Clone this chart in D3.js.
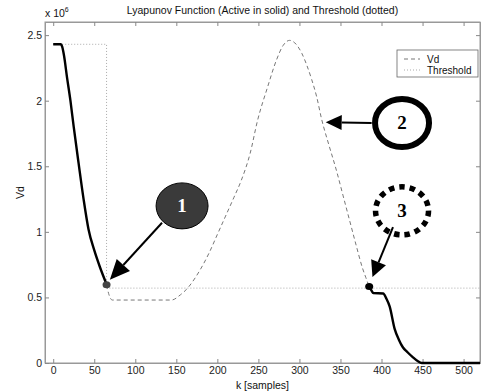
<!DOCTYPE html>
<html>
<head>
<meta charset="utf-8">
<script src="https://cdn.jsdelivr.net/npm/d3@7"></script>
<style>
  body { margin: 0; background: #fff; }
  text { font-family: "Liberation Sans", Arial, sans-serif; }
  .tick text { font-size: 10.5px; fill: #222; }
</style>
</head>
<body>
<div id="chart"></div>
<script>

// values (V in units of 1e6)
let activeStart = [[0, 2.43], [9, 2.43], [11, 2.41], [13, 2.35], [17, 2.17], [21, 2.0], [25, 1.8],
	[31, 1.52], [37, 1.25], [43, 1.02], [50, 0.86], [57, 0.73], [65, 0.6]];
let activeEnd = [[385, 0.583], [388, 0.55], [390, 0.533], [402, 0.53], [406, 0.49], [410, 0.43],
	[416, 0.26], [421, 0.18], [426, 0.12], [432, 0.08], [438, 0.045], [444, 0.015], [449, 0], [520, 0]];
let vdCurve = [[65, 0.596], [68, 0.52], [72, 0.48], [144, 0.48], [155, 0.52], [165, 0.58], [172, 0.64],
	[179, 0.71], [190, 0.84], [200, 0.98], [210, 1.12], [220, 1.26], [229, 1.39], [240, 1.6],
	[249, 1.85], [261, 2.1], [272, 2.31], [280, 2.42], [288, 2.46], [296, 2.43], [303, 2.36],
	[309, 2.27], [315, 2.16], [321, 2.03], [327, 1.86], [336, 1.66], [345, 1.47], [353, 1.28],
	[361, 1.09], [369, 0.9], [377, 0.72], [381, 0.65], [385, 0.583]];
let threshold = [[0, 2.43], [65, 2.43], [65, 0.571], [520, 0.571]];

let xTicks = [0, 50, 100, 150, 200, 250, 300, 350, 400, 450, 500];
let yTicks = [0, 0.5, 1, 1.5, 2, 2.5];

let markers = [[65, 0.596], [385, 0.583]];

// annotation bubbles: centre and arrow in data units
let notes = [
	{ label: "1", k: 157, v: 1.198, fromK: 132.6, fromV: 1.069, toK: 69, toV: 0.635, style: "filled" },
	{ label: "2", k: 425, v: 1.83, fromK: 388, fromV: 1.83, toK: 332, toV: 1.836, style: "ring" },
	{ label: "3", k: 425, v: 1.16, fromK: 414, fromV: 1.036, toK: 389, toV: 0.655, style: "dotted" }
];

let W = 481, H = 392;
let margin = { top: 22, right: 1, bottom: 29, left: 45 };

let svg = d3.select("#chart").append("svg")
	.attr("width", W)
	.attr("height", H);

let x = d3.scaleLinear().domain([-10, 520]).range([margin.left, W - margin.right]);
let y = d3.scaleLinear().domain([0, 2.6]).range([H - margin.bottom, margin.top]);

// box
svg.append("rect")
	.attr("x", x(-10)).attr("y", y(2.6))
	.attr("width", x(520) - x(-10)).attr("height", y(0) - y(2.6))
	.attr("fill", "#fff").attr("stroke", "#999").attr("stroke-width", 1);

// axes
let gx = svg.append("g").attr("transform", "translate(0," + y(0) + ")")
	.call(d3.axisBottom(x).tickValues(xTicks).tickSize(-4).tickPadding(4).tickFormat(d3.format("d")));
let gy = svg.append("g").attr("transform", "translate(" + x(-10) + ",0)")
	.call(d3.axisLeft(y).tickValues(yTicks).tickSize(-4).tickPadding(3).tickFormat(d => d));
svg.append("g").attr("transform", "translate(0," + y(2.6) + ")")
	.call(d3.axisTop(x).tickValues(xTicks).tickSize(-4).tickFormat(""));
svg.append("g").attr("transform", "translate(" + x(520) + ",0)")
	.call(d3.axisRight(y).tickValues(yTicks).tickSize(-4).tickFormat(""));
svg.selectAll(".domain").attr("stroke", "#999");
svg.selectAll(".tick line").attr("stroke", "#888");

// lines
let line = d3.line().x(d => x(d[0])).y(d => y(d[1]));
let smooth = d3.line().x(d => x(d[0])).y(d => y(d[1])).curve(d3.curveMonotoneX);

svg.append("path").datum(threshold).attr("d", line)
	.attr("fill", "none").attr("stroke", "#aaa").attr("stroke-width", 1).attr("stroke-dasharray", "1,2");

svg.append("path").datum(vdCurve).attr("d", smooth)
	.attr("fill", "none").attr("stroke", "#777").attr("stroke-width", 1).attr("stroke-dasharray", "4,3");

[activeStart, activeEnd].forEach(function (s) {
	svg.append("path").datum(s).attr("d", smooth)
		.attr("fill", "none").attr("stroke", "#000").attr("stroke-width", 2.4);
});

svg.selectAll(".mk").data(markers).enter().append("ellipse")
	.attr("cx", d => x(d[0])).attr("cy", d => y(d[1]))
	.attr("rx", 4).attr("ry", 3.5)
	.attr("fill", (d, i) => i == 0 ? "#444" : "#000");

// legend
let lg = svg.append("g").attr("transform", "translate(397,50)");
lg.append("rect").attr("width", 81).attr("height", 27)
	.attr("fill", "#fff").attr("stroke", "#666").attr("stroke-width", 0.8);
lg.append("line").attr("x1", 7).attr("x2", 23).attr("y1", 9).attr("y2", 9)
	.attr("stroke", "#777").attr("stroke-dasharray", "4,3");
lg.append("line").attr("x1", 7).attr("x2", 23).attr("y1", 20).attr("y2", 20)
	.attr("stroke", "#aaa").attr("stroke-dasharray", "1,2");
lg.append("text").attr("x", 30).attr("y", 13).attr("font-size", 10).attr("fill", "#111").text("Vd");
lg.append("text").attr("x", 30).attr("y", 24).attr("font-size", 10).attr("fill", "#111").text("Threshold");

// annotations
function arrow(x1, y1, x2, y2, len, hw) {
	let a = Math.atan2(y2 - y1, x2 - x1);
	let bx = x2 - len * Math.cos(a), by = y2 - len * Math.sin(a);
	svg.append("line").attr("x1", x1).attr("y1", y1).attr("x2", bx).attr("y2", by)
		.attr("stroke", "#000").attr("stroke-width", 2);
	let pts = [[x2, y2],
		[bx + hw * Math.sin(a), by - hw * Math.cos(a)],
		[bx - hw * Math.sin(a), by + hw * Math.cos(a)]];
	svg.append("polygon").attr("points", pts.map(p => p.join(",")).join(" ")).attr("fill", "#000");
}

notes.forEach(function (n) {
	let cx = x(n.k), cy = y(n.v);
	if (n.style == "filled") {
		svg.append("ellipse").attr("cx", cx).attr("cy", cy).attr("rx", 26).attr("ry", 23)
			.attr("fill", "#3a3a3a").attr("stroke", "#000").attr("stroke-width", 1);
		arrow(x(n.fromK), y(n.fromV), x(n.toK), y(n.toV), 20, 9);
	} else if (n.style == "ring") {
		svg.append("ellipse").attr("cx", cx).attr("cy", cy).attr("rx", 27).attr("ry", 24)
			.attr("fill", "#fff").attr("stroke", "#000").attr("stroke-width", 6);
		arrow(x(n.fromK), y(n.fromV), x(n.toK), y(n.toV), 16, 7.5);
	} else {
		svg.append("ellipse").attr("cx", cx).attr("cy", cy).attr("rx", 26.5).attr("ry", 24)
			.attr("fill", "#fff").attr("stroke", "#000").attr("stroke-width", 5.5)
			.attr("stroke-dasharray", "5.5,5");
		arrow(x(n.fromK), y(n.fromV), x(n.toK), y(n.toV), 16, 8);
	}
	svg.append("text").attr("x", cx).attr("y", cy + 6)
		.attr("text-anchor", "middle")
		.style("font-family", "'Liberation Serif', 'Times New Roman', serif")
		.attr("font-weight", "bold").attr("font-size", 19)
		.attr("fill", n.style == "filled" ? "#fff" : "#000")
		.text(n.label);
});

// texts
svg.append("text").attr("x", (x(-10) + x(520)) / 2).attr("y", 14)
	.attr("text-anchor", "middle").attr("font-size", 10.5).attr("fill", "#111")
	.text("Lyapunov Function (Active in solid) and Threshold (dotted)");

let ex = svg.append("text").attr("x", 45).attr("y", 17).attr("font-size", 10.5).attr("fill", "#111");
ex.append("tspan").text("x 10");
ex.append("tspan").attr("font-size", 7).attr("dy", -5).text("6");

svg.append("text").attr("x", (x(-10) + x(520)) / 2).attr("y", 389)
	.attr("text-anchor", "middle").attr("font-size", 10.5).attr("fill", "#111")
	.text("k [samples]");

svg.append("text").attr("transform", "translate(24," + (y(1.3)) + ") rotate(-90)")
	.attr("text-anchor", "middle").attr("font-size", 10.5).attr("fill", "#111")
	.text("Vd");

</script>
</body>
</html>
